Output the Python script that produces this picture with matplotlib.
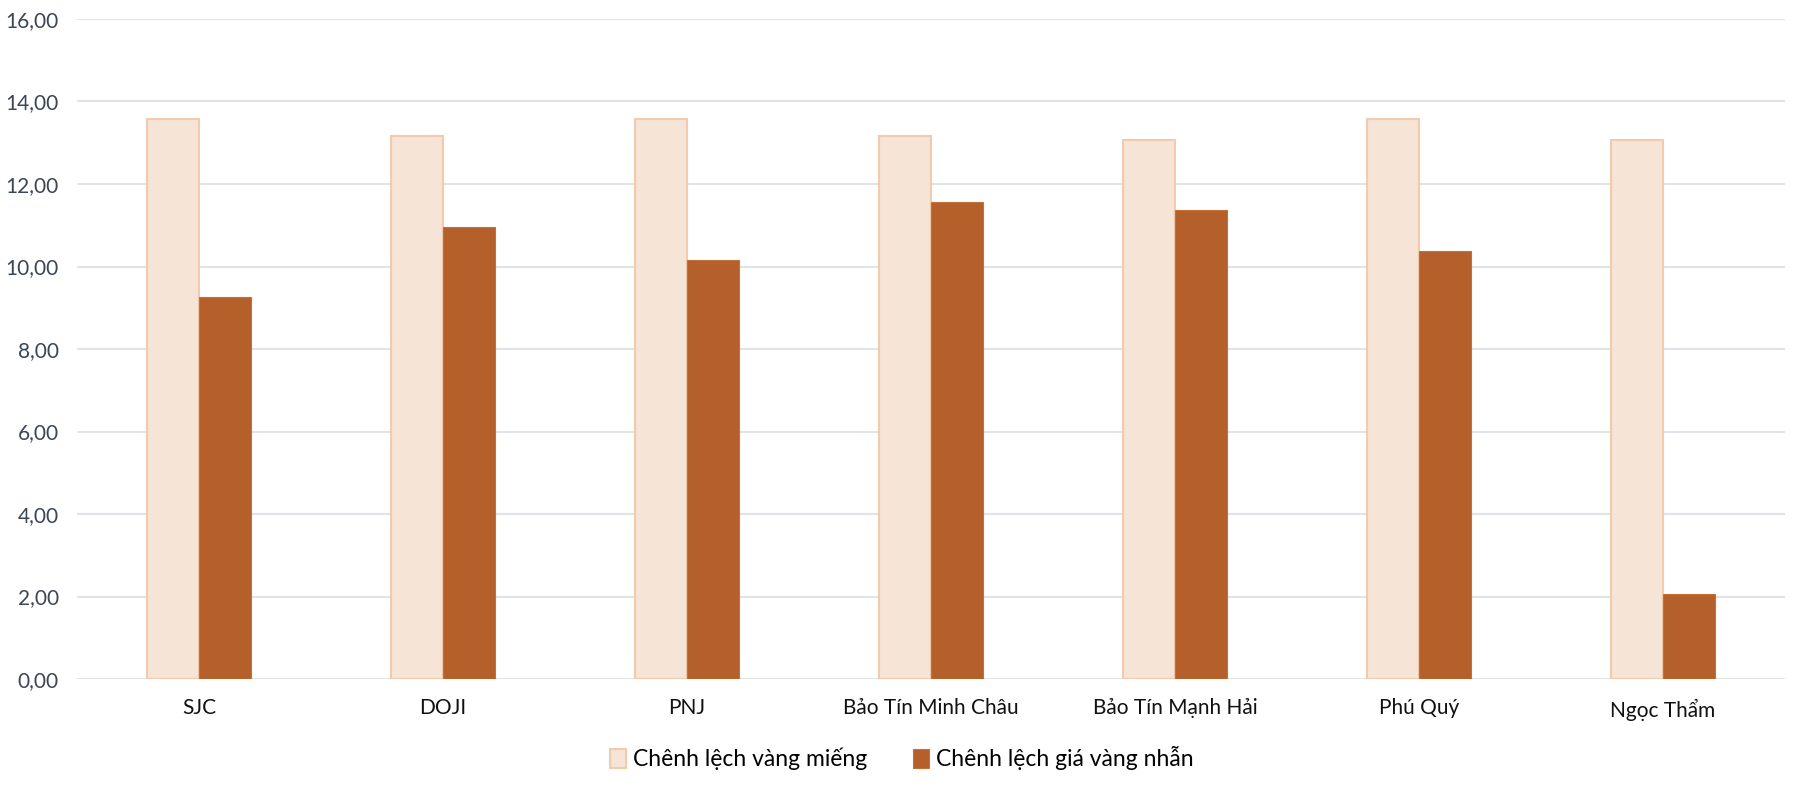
import matplotlib.pyplot as plt
import numpy as np
from matplotlib.ticker import FuncFormatter

plt.rcParams['font.family'] = ['Lato', 'DejaVu Sans']

# --- data ---
brands = ['SJC', 'DOJI', 'PNJ', 'Bảo Tín Minh Châu', 'Bảo Tín Mạnh Hải', 'Phú Quý', 'Ngọc Thẩm']
chenh_mieng = [13.57, 13.17, 13.57, 13.17, 13.07, 13.57, 13.07]
chenh_nhan = [9.27, 10.96, 10.16, 11.56, 11.36, 10.38, 2.06]

light_fill = '#F6E4D7'
light_edge = '#F0CBAE'
dark_fill = '#B5602A'
grid_col = '#E0E3E8'

fig = plt.figure(figsize=(18, 7.88), dpi=100)
ax = fig.add_axes([0.0428, 0.1383, 0.9489, 0.8376])

x = np.arange(len(brands))
w = 0.213
ax.bar(x - w / 2, chenh_mieng, w, color=light_fill, edgecolor=light_edge, linewidth=1.5,
       label='Chênh lệch vàng miếng', zorder=3)
ax.bar(x + w / 2, chenh_nhan, w, color=dark_fill, edgecolor='#C4703A', linewidth=0.8,
       label='Chênh lệch giá vàng nhẫn', zorder=3)

ax.set_xlim(-0.5, len(brands) - 0.5)
ax.set_ylim(0, 16)
ax.set_yticks(np.arange(0, 17, 2))
ax.yaxis.set_major_formatter(FuncFormatter(lambda v, p: f'{v:.2f}'.replace('.', ',')))
ax.set_xticks(x)
ax.set_xticklabels(brands)

ax.grid(axis='y', color=grid_col, linewidth=1.5, zorder=0)
for s in ax.spines.values():
    s.set_visible(False)
ax.tick_params(axis='y', length=0, pad=13, labelsize=15, labelcolor='#3B4658')
ax.tick_params(axis='x', length=0, pad=14, labelsize=15, labelcolor='#111111')

fig.legend(loc='center', bbox_to_anchor=(0.501, 0.038), ncol=2, frameon=False,
           fontsize=16.5, handlelength=0.7, handleheight=0.9, handletextpad=0.3,
           columnspacing=2.0)

fig.savefig('out.png', dpi=100)
